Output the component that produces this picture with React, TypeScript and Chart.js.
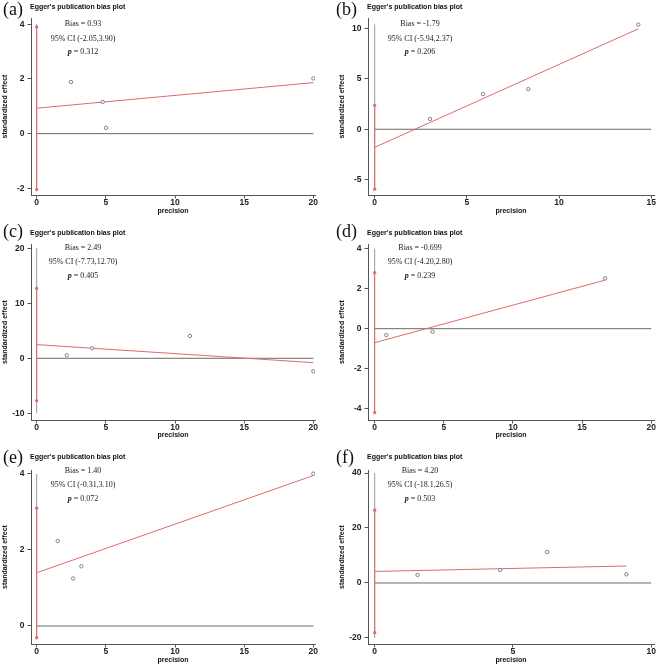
import React, { useEffect, useRef } from 'react';
import { Chart, registerables } from 'chart.js';

Chart.register(...registerables);

const SANS = '"Liberation Sans", Arial, Helvetica, sans-serif';
const SERIF = '"Liberation Serif", "Times New Roman", Times, serif';

// ---------- data ----------
const panelLabels = ['(a)', '(b)', '(c)', '(d)', '(e)', '(f)'];
const biasValues = [0.93, -1.79, 2.49, -0.699, 1.4, 4.2];
const biasLabels = ['0.93', '-1.79', '2.49', '-0.699', '1.40', '4.20'];
const ciLow = [-2.05, -5.94, -7.73, -4.2, -0.31, -18.1];
const ciHigh = [3.9, 2.37, 12.7, 2.8, 3.1, 26.5];
const ciLabels = ['(-2.05,3.90)', '(-5.94,2.37)', '(-7.73,12.70)', '(-4.20,2.80)', '(-0.31,3.10)', '(-18.1,26.5)'];
const pLabels = ['0.312', '0.206', '0.405', '0.239', '0.072', '0.503'];

const precisionA = [2.48, 4.77, 5.01, 20.0];
const effectA = [1.89, 1.16, 0.21, 2.02];
const precisionB = [3.0, 5.87, 8.33, 14.3];
const effectB = [1.02, 3.49, 3.98, 10.39];
const precisionC = [2.17, 4.02, 11.08, 20.0];
const effectC = [0.55, 1.82, 4.06, -2.36];
const precisionD = [0.84, 4.19, 16.67];
const effectD = [-0.32, -0.15, 2.52];
const precisionE = [1.52, 2.63, 3.23, 20.0];
const effectE = [2.24, 1.25, 1.57, 4.01];
const precisionF = [1.55, 4.54, 6.24, 9.1];
const effectF = [2.9, 4.73, 11.27, 3.15];

const precisions = [precisionA, precisionB, precisionC, precisionD, precisionE, precisionF];
const effects = [effectA, effectB, effectC, effectD, effectE, effectF];

// fitted line value at the largest precision
const fitEndY = [1.866, 9.97, -0.79, 2.43, 3.96, 6.18];
// grey vertical reference line at precision 0
const refLineLow = [-2.05, -5.94, -10, -4.2, -0.31, -20];
const refLineHigh = [4, 10.4, 20, 4, 4, 40];

const xTickSets = [
  [0, 5, 10, 15, 20],
  [0, 5, 10, 15],
  [0, 5, 10, 15, 20],
  [0, 5, 10, 15, 20],
  [0, 5, 10, 15, 20],
  [0, 5, 10],
];
const yTickSets = [
  [-2, 0, 2, 4],
  [-5, 0, 5, 10],
  [-10, 0, 10, 20],
  [-4, -2, 0, 2, 4],
  [0, 2, 4],
  [-20, 0, 20, 40],
];

// ---------- layout ----------
const COLS = [
  { left: 0, w: 329, L: 31, R: 315, labelX: 3 },
  { left: 329, w: 330, L: 39, R: 325, labelX: 7 },
];
const ROWS = [
  { top: 0, h: 220, T: 18, B: 195, titleY: 7.5, labelY: 10, annY: [24.3, 39, 52.3], precY: 211 },
  { top: 220, h: 222, T: 24, B: 200, titleY: 13, labelY: 12, annY: [27.7, 42.3, 55.7], precY: 215.5 },
  { top: 442, h: 223, T: 28, B: 202, titleY: 15.5, labelY: 16.5, annY: [29.3, 43.3, 56.7], precY: 218.5 },
];
const RANGES = [
  { xMin: -0.41, xMax: 20.12, yMin: -2.245, yMax: 4.23 },
  { xMin: -0.363, xMax: 15.15, yMin: -6.52, yMax: 11.04 },
  { xMin: -0.41, xMax: 20.12, yMin: -11.22, yMax: 20.78 },
  { xMin: -0.48, xMax: 20.2, yMin: -4.565, yMax: 4.235 },
  { xMin: -0.41, xMax: 20.12, yMin: -0.474, yMax: 4.105 },
  { xMin: -0.242, xMax: 10.1, yMin: -22.2, yMax: 41.1 },
];

const RED = '#de6b6b';
const AXIS = '#555555';

function Panel({ i }: { i: number }) {
  const ref = useRef<HTMLCanvasElement | null>(null);
  const col = COLS[i % 2];
  const row = ROWS[Math.floor(i / 2)];
  const rng = RANGES[i];

  useEffect(() => {
    if (!ref.current) return;
    const W = col.w;
    const H = row.h;
    const xs = precisions[i];
    const ys = effects[i];
    const xMaxData = Math.max(...xs);
    const xt = xTickSets[i];
    const yt = yTickSets[i];

    const textPlugin = {
      id: 'eggerText' + i,
      afterDraw(chart: any) {
        const ctx = chart.ctx as CanvasRenderingContext2D;
        const { left, right, top, bottom } = chart.chartArea;
        ctx.save();
        ctx.fillStyle = '#111';
        ctx.textBaseline = 'middle';
        ctx.textAlign = 'left';
        ctx.font = `18px ${SERIF}`;
        ctx.fillText(panelLabels[i], col.labelX, row.labelY);
        ctx.font = `bold 7px ${SANS}`;
        ctx.fillText("Egger's publication bias plot", left - 1, row.titleY);

        const cx = left + 52;
        ctx.fillStyle = '#222';
        ctx.textAlign = 'center';
        ctx.font = `8px ${SERIF}`;
        ctx.fillText(`Bias = ${biasLabels[i]}`, cx, row.annY[0]);
        ctx.fillText(`95% CI ${ciLabels[i]}`, cx, row.annY[1]);
        ctx.textAlign = 'left';
        ctx.font = `italic bold 8px ${SERIF}`;
        const w1 = ctx.measureText('p').width;
        ctx.font = `8px ${SERIF}`;
        const rest = ` = ${pLabels[i]}`;
        const w2 = ctx.measureText(rest).width;
        const sx = cx - (w1 + w2) / 2;
        ctx.font = `italic bold 8px ${SERIF}`;
        ctx.fillText('p', sx, row.annY[2]);
        ctx.font = `8px ${SERIF}`;
        ctx.fillText(rest, sx + w1, row.annY[2]);

        ctx.fillStyle = '#111';
        ctx.font = `bold 7px ${SANS}`;
        ctx.textAlign = 'center';
        ctx.fillText('precision', (left + right) / 2, row.precY);
        ctx.translate(left - 26, (top + bottom) / 2);
        ctx.rotate(-Math.PI / 2);
        ctx.fillText('standardized effect', 0, 0);
        ctx.restore();
      },
    };

    const tickFont = { family: SANS, size: 8.5, weight: 'bold' as const, lineHeight: 1 };

    const chart = new Chart(ref.current, {
      type: 'scatter',
      data: {
        datasets: [
          {
            label: 'ref0',
            data: [
              { x: 0, y: refLineLow[i] },
              { x: 0, y: refLineHigh[i] },
            ],
            showLine: true,
            borderColor: '#9a9a9a',
            borderWidth: 1,
            pointRadius: 0,
            order: 5,
          },
          {
            label: 'zero',
            data: [
              { x: 0, y: 0 },
              { x: xt[xt.length - 1], y: 0 },
            ],
            showLine: true,
            borderColor: '#6a6a6a',
            borderWidth: 1,
            pointRadius: 0,
            order: 4,
          },
          {
            label: 'ci',
            data: [
              { x: 0, y: ciLow[i] },
              { x: 0, y: ciHigh[i] },
            ],
            showLine: true,
            borderColor: RED,
            borderWidth: 1,
            pointRadius: 1.4,
            pointBackgroundColor: RED,
            pointBorderColor: RED,
            pointBorderWidth: 0.5,
            order: 3,
          },
          {
            label: 'fit',
            data: [
              { x: 0, y: biasValues[i] },
              { x: xMaxData, y: fitEndY[i] },
            ],
            showLine: true,
            borderColor: RED,
            borderWidth: 1,
            pointRadius: 0,
            order: 2,
          },
          {
            label: 'studies',
            data: xs.map((x, k) => ({ x, y: ys[k] })),
            showLine: false,
            pointRadius: 1.7,
            pointBorderWidth: 0.8,
            pointBorderColor: '#666666',
            pointBackgroundColor: '#ffffff',
            order: 1,
          },
        ],
      },
      options: {
        responsive: false,
        maintainAspectRatio: false,
        animation: false,
        devicePixelRatio: 1,
        layout: { padding: { top: row.T, left: 0, right: W - col.R, bottom: 0 } },
        plugins: {
          legend: { display: false },
          tooltip: { enabled: false },
          title: { display: false },
        },
        scales: {
          x: {
            type: 'linear',
            min: rng.xMin,
            max: rng.xMax,
            afterBuildTicks: (s: any) => {
              s.ticks = xt.map((v) => ({ value: v }));
            },
            afterFit: (s: any) => {
              s.height = H - row.B;
            },
            grid: { display: true, drawOnChartArea: false, drawTicks: true, tickLength: 3.5, color: AXIS, lineWidth: 1 },
            border: { display: true, color: AXIS, width: 1 },
            ticks: { font: tickFont, color: '#222', padding: 0, maxRotation: 0, autoSkip: false },
            title: { display: false },
          },
          y: {
            type: 'linear',
            min: rng.yMin,
            max: rng.yMax,
            afterBuildTicks: (s: any) => {
              s.ticks = yt.map((v) => ({ value: v }));
            },
            afterFit: (s: any) => {
              s.width = col.L;
            },
            grid: { display: true, drawOnChartArea: false, drawTicks: true, tickLength: 3.5, color: AXIS, lineWidth: 1 },
            border: { display: true, color: AXIS, width: 1 },
            ticks: { font: tickFont, color: '#222', padding: 3, autoSkip: false },
            title: { display: false },
          },
        },
      } as any,
      plugins: [textPlugin],
    });
    return () => chart.destroy();
  }, [i]);

  return (
    <canvas
      ref={ref}
      width={col.w}
      height={row.h}
      style={{ position: 'absolute', left: col.left, top: row.top, width: col.w, height: row.h }}
    />
  );
}

export default function App() {
  return (
    <div style={{ position: 'absolute', left: 0, top: 0, width: 659, height: 665, background: '#ffffff' }}>
      {[0, 1, 2, 3, 4, 5].map((i) => (
        <Panel key={i} i={i} />
      ))}
    </div>
  );
}
